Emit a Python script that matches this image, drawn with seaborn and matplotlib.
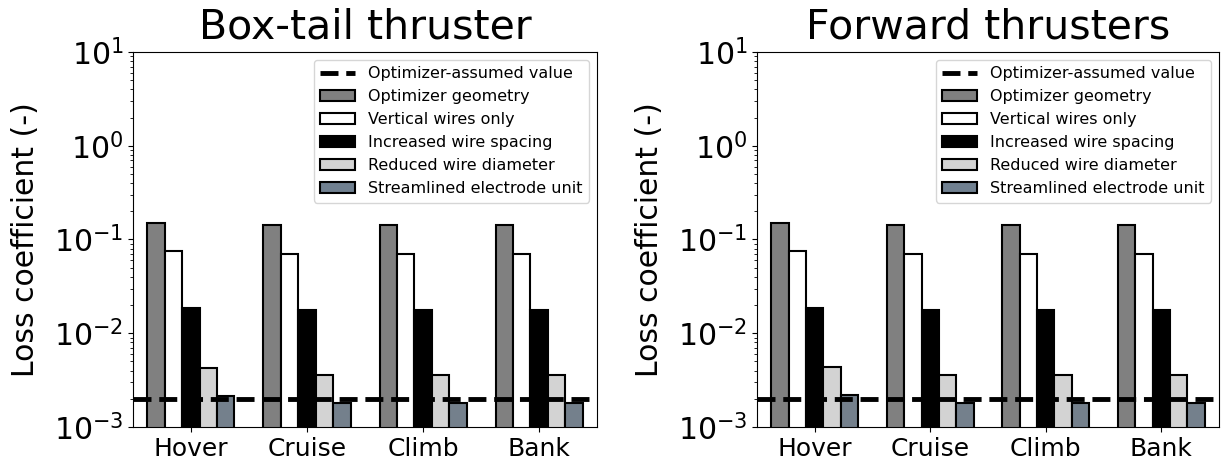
import matplotlib
matplotlib.use("Agg")
import matplotlib.pyplot as plt
from matplotlib.lines import Line2D
from matplotlib.patches import Patch
import numpy as np
import pandas as pd
import seaborn as sns

# Flight conditions and design variants
conditions = ["Hover", "Cruise", "Climb", "Bank"]
variants = [
    "Optimizer geometry",
    "Vertical wires only",
    "Increased wire spacing",
    "Reduced wire diameter",
    "Streamlined electrode unit",
]
variant_colors = ["grey", "white", "black", "lightgrey", "slategrey"]

assumed_loss = 0.002

# Loss coefficients, box-tail thruster
box_optimizer = [0.150, 0.143, 0.143, 0.143]
box_vertical = [0.0748, 0.0707, 0.0707, 0.0707]
box_spacing = [0.0188, 0.0177, 0.0177, 0.0177]
box_diameter = [0.0043, 0.0036, 0.0036, 0.0036]
box_streamlined = [0.00214, 0.00179, 0.00179, 0.00179]

# Loss coefficients, forward thrusters
fwd_optimizer = [0.150, 0.143, 0.143, 0.143]
fwd_vertical = [0.0748, 0.0707, 0.0707, 0.0707]
fwd_spacing = [0.0188, 0.0177, 0.0177, 0.0177]
fwd_diameter = [0.00437, 0.0036, 0.0036, 0.0036]
fwd_streamlined = [0.00218, 0.00179, 0.00179, 0.00179]

panels = [
    ("Box-tail thruster",
     [box_optimizer, box_vertical, box_spacing, box_diameter, box_streamlined]),
    ("Forward thrusters",
     [fwd_optimizer, fwd_vertical, fwd_spacing, fwd_diameter, fwd_streamlined]),
]


def to_frame(series):
    rows = []
    for name, vals in zip(variants, series):
        for cond, v in zip(conditions, vals):
            rows.append({"condition": cond, "variant": name, "loss": v})
    return pd.DataFrame(rows)


fig = plt.figure(figsize=(12.21, 4.68), dpi=100)
axes = [
    fig.add_axes([0.1089, 0.0876, 0.3801, 0.8013]),
    fig.add_axes([0.6200, 0.0876, 0.3784, 0.8013]),
]

for ax, (title, series) in zip(axes, panels):
    df = to_frame(series)
    sns.barplot(
        data=df, x="condition", y="loss", hue="variant",
        order=conditions, hue_order=variants,
        palette=variant_colors, edgecolor="black", linewidth=1.5,
        width=0.75, gap=0, ax=ax, legend=False,
    )
    ax.set_yscale("log")
    ax.set_ylim(1e-3, 1e1)
    ax.set_xlim(-0.5, len(conditions) - 0.5)
    ax.axhline(assumed_loss, color="black", linestyle="--", linewidth=3.5,
               zorder=5)
    ax.set_title(title, fontsize=29.5, pad=10)
    ax.set_xlabel("")
    ax.set_ylabel("Loss coefficient (-)", fontsize=21.5, labelpad=10)
    ax.tick_params(axis="y", labelsize=21.5)
    ax.tick_params(axis="x", labelsize=18)

    handles = [Line2D([0], [0], color="black", linestyle="--", linewidth=3.5)]
    handles += [Patch(facecolor=c, edgecolor="black", linewidth=1.5)
                for c in variant_colors]
    labels = ["Optimizer-assumed value"] + variants
    ax.legend(handles, labels, loc="upper right", fontsize=11.5,
              handlelength=2.2, labelspacing=0.5)

fig.savefig("out.png", dpi=100)
